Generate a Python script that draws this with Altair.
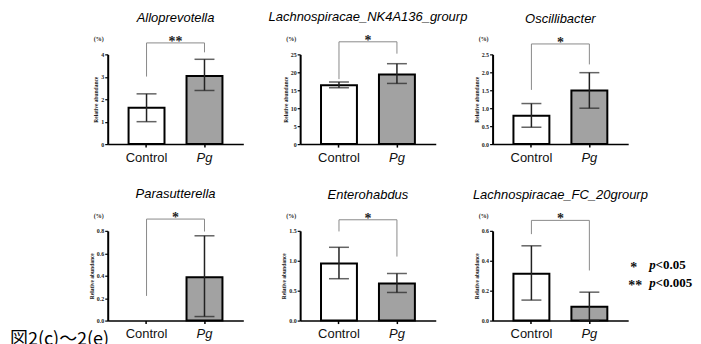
import altair as alt
import pandas as pd

titles = ["Alloprevotella", "Lachnospiracae_NK4A136_grourp", "Oscillibacter",
          "Parasutterella", "Enterohabdus", "Lachnospiracae_FC_20grourp"]
groups = ["Control", "Pg"]

ctrl_mean = [1.62, 16.4, 0.79, 0.0, 0.955, 0.313]
pg_mean = [3.04, 19.4, 1.49, 0.387, 0.62, 0.093]
ctrl_lo = [1.0, 15.7, 0.47, None, 0.70, 0.137]
ctrl_hi = [2.24, 17.3, 1.13, None, 1.225, 0.50]
pg_lo = [2.39, 16.9, 1.0, 0.036, 0.47, 0.0]
pg_hi = [3.78, 22.4, 1.99, 0.756, 0.787, 0.19]

bracket_top = [4.51, 28.5, 2.79, 0.905, 1.685, 0.67]
bracket_left = [3.01, 18.1, 1.51, 0.22, 1.49, 0.578]
bracket_right = [4.09, 25.2, 2.22, 0.794, 1.07, 0.335]
stars = ["**", "*", "*", "*", "*", "*"]

y_max = [4, 25, 2.5, 0.8, 1.5, 0.6]
y_ticks = [[0, 1, 2, 3, 4], [0, 5, 10, 15, 20, 25], [0, 0.5, 1.0, 1.5, 2.0, 2.5],
           [0, 0.2, 0.4, 0.6, 0.8], [0, 0.5, 1.0, 1.5], [0, 0.2, 0.4, 0.6]]
y_format = ["d", "d", ".1f", ".1f", ".1f", ".1f"]

legend_stars = ["*", "**"]
legend_p = ["p", "p"]
legend_vals = ["<0.05", "<0.005"]
fig_label = "図2(c)～2(e)"

W, H = 136, 90
SERIF = "Liberation Serif"
SANS = "Liberation Sans"


def panel(i):
    bars = pd.DataFrame({"group": groups, "mean": [ctrl_mean[i], pg_mean[i]]})
    errs = pd.DataFrame({"group": groups, "lo": [ctrl_lo[i], pg_lo[i]],
                         "hi": [ctrl_hi[i], pg_hi[i]]}).dropna()
    br = pd.DataFrame({"group": ["Control", "Control", "Pg", "Pg"],
                       "v": [bracket_left[i], bracket_top[i], bracket_top[i], bracket_right[i]],
                       "o": [0, 1, 2, 3]})
    st = pd.DataFrame({"v": [bracket_top[i]], "s": [stars[i]]})

    xscale = alt.Scale(domain=groups, paddingInner=0.38, paddingOuter=0.36)
    yscale = alt.Scale(domain=[0, y_max[i]], nice=False, zero=True)

    xaxis = alt.Axis(title=None, labelAngle=0, domainColor="black", domainWidth=1.5,
                     tickColor="black", tickWidth=1.5, tickSize=3,
                     labelFont=SANS, labelFontSize=13, labelColor="#111", labelPadding=4,
                     labelFontStyle={"condition": {"test": "datum.value == 'Pg'", "value": "italic"},
                                     "value": "normal"})
    yaxis = alt.Axis(title="Relative abundance", values=y_ticks[i], format=y_format[i],
                     grid=False, domainColor="black", domainWidth=2, tickColor="black",
                     tickWidth=1.2, tickSize=3, labelFont=SERIF, labelFontSize=6,
                     labelFontWeight="bold", labelColor="#222", labelPadding=1,
                     titleFont=SERIF, titleFontSize=5.5, titleFontWeight="bold",
                     titleColor="#222", titlePadding=2)

    def X():
        return alt.X("group:N", scale=xscale, axis=xaxis, sort=groups)

    def Y(f):
        return alt.Y(f, scale=yscale, axis=yaxis)

    base_bar = alt.Chart(bars).transform_filter("datum.mean > 0").mark_bar(
        stroke="black", strokeWidth=2).encode(
        x=X(), y=Y("mean:Q"),
        color=alt.Color("group:N", scale=alt.Scale(domain=groups, range=["white", "#a2a2a2"]),
                        legend=None),
    )
    rule = alt.Chart(errs).mark_rule(color="#222", strokeWidth=1.5).encode(
        x=X(), y=Y("lo:Q"), y2="hi:Q")
    cap_lo = alt.Chart(errs).mark_tick(color="#222", thickness=1.5, size=20).encode(
        x=X(), y=Y("lo:Q"))
    cap_hi = alt.Chart(errs).mark_tick(color="#222", thickness=1.5, size=20).encode(
        x=X(), y=Y("hi:Q"))
    bracket = alt.Chart(br).mark_line(color="#8a8a8a", strokeWidth=1).encode(
        x=X(), y=Y("v:Q"), order="o:Q")
    star = alt.Chart(st).mark_text(font=SERIF, fontWeight="bold", fontSize=14,
                                   color="#222", dy=3, baseline="alphabetic").encode(
        x=alt.value(W / 2), y=Y("v:Q"), text="s:N")
    pct = alt.Chart(pd.DataFrame({"t": ["(%)"]})).mark_text(
        font=SERIF, fontWeight="bold", fontSize=6, color="#222").encode(
        x=alt.value(-9), y=alt.value(-15), text="t:N")

    layers = [base_bar, rule, cap_lo, cap_hi, bracket, star, pct]

    if i == 5:
        leg = pd.DataFrame({"s": legend_stars, "p": legend_p, "v": legend_vals, "r": [0, 1]})
        ys = [34, 52]
        sx = [141.5, 143]
        for r in range(2):
            d = leg[leg.r == r]
            layers.append(alt.Chart(d).mark_text(font=SERIF, fontWeight="bold", fontSize=14,
                                                 color="#111", baseline="middle", dy=3).encode(
                x=alt.value(sx[r]), y=alt.value(ys[r]), text="s:N"))
            layers.append(alt.Chart(d).mark_text(font=SERIF, fontWeight="bold", fontStyle="italic",
                                                 fontSize=13, color="black", align="left",
                                                 baseline="middle").encode(
                x=alt.value(157), y=alt.value(ys[r]), text="p:N"))
            layers.append(alt.Chart(d).mark_text(font=SERIF, fontWeight="bold",
                                                 fontSize=13, color="black", align="left",
                                                 baseline="middle").encode(
                x=alt.value(163.5), y=alt.value(ys[r]), text="v:N"))
    if i == 3:
        layers.append(alt.Chart(pd.DataFrame({"t": [fig_label]})).mark_text(
            font="Noto Sans CJK JP", fontSize=18, color="black", align="left",
            baseline="top").encode(x=alt.value(-98), y=alt.value(100), text="t:N"))

    return alt.layer(*layers).properties(
        width=W, height=H,
        title=alt.TitleParams(titles[i], font=SANS, fontSize=13, fontStyle="italic",
                              fontWeight="normal", color="black", anchor="middle",
                              frame="group", offset=10),
    )


chart = alt.concat(*[panel(i) for i in range(6)], columns=3,
                   spacing={"row": 87, "column": 57}, bounds="flush").properties(
    padding={"left": 2, "top": 2, "right": 0, "bottom": 0}
).configure_view(stroke=None)

chart.save("out.html", embed_options={"renderer": "svg", "actions": False})
